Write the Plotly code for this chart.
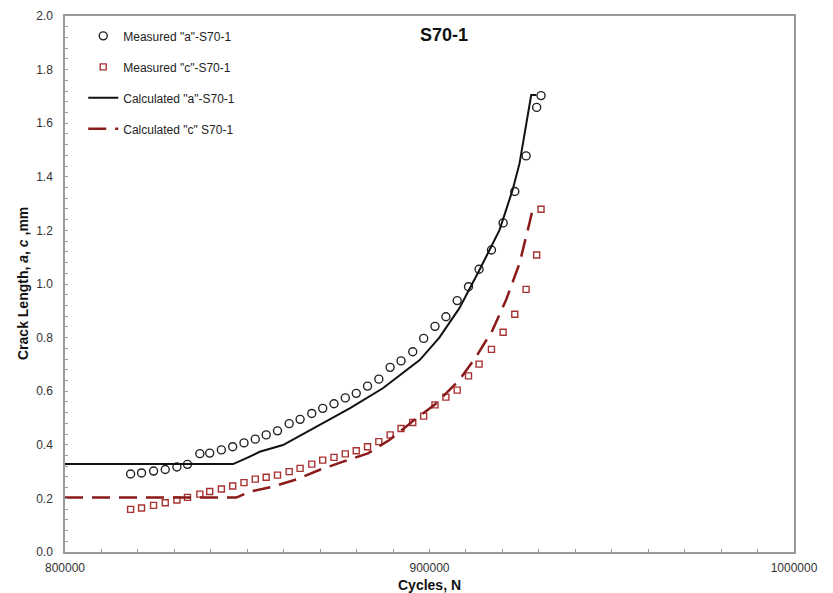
import plotly.graph_objects as go

# ---------------- data ----------------
cycles_measured = [818000, 821000, 824300, 827500, 830700, 833600, 837000, 839700,
                   842900, 846000, 849100, 852200, 855200, 858300, 861500, 864500,
                   867700, 870700, 873800, 876900, 879900, 883000, 886100, 889200,
                   892200, 895400, 898400, 901500, 904500, 907600, 910700, 913600,
                   917000, 920200, 923400, 926500, 929400, 930600]
measured_a = [0.291, 0.295, 0.302, 0.308, 0.317, 0.327, 0.367, 0.369, 0.381, 0.393,
              0.407, 0.421, 0.437, 0.452, 0.479, 0.495, 0.517, 0.536, 0.553, 0.575,
              0.592, 0.619, 0.645, 0.689, 0.713, 0.747, 0.797, 0.842, 0.878, 0.938,
              0.990, 1.055, 1.127, 1.228, 1.345, 1.478, 1.659, 1.703]
measured_c = [0.159, 0.164, 0.174, 0.184, 0.194, 0.204, 0.216, 0.226, 0.235, 0.246,
              0.259, 0.272, 0.279, 0.287, 0.300, 0.312, 0.328, 0.343, 0.353, 0.366,
              0.378, 0.393, 0.412, 0.437, 0.461, 0.483, 0.507, 0.549, 0.578, 0.604,
              0.657, 0.701, 0.756, 0.820, 0.887, 0.980, 1.108, 1.279]

cycles_calc_a = [800000, 846100, 849800, 853400, 859800, 869000, 878100, 887200,
                 897300, 902700, 908200, 913700, 919200, 922800, 924700, 927900, 929300]
calc_a = [0.328, 0.328, 0.350, 0.374, 0.399, 0.468, 0.536, 0.611,
          0.716, 0.800, 0.910, 1.052, 1.201, 1.351, 1.450, 1.705, 1.705]

cycles_calc_c = [800000, 847000, 850700, 857100, 863500, 869900, 876300, 883100,
                 889000, 896400, 901400, 908200, 912800, 917300, 921000, 924700,
                 927400, 928300, 929600]
calc_c = [0.203, 0.203, 0.225, 0.244, 0.271, 0.307, 0.337, 0.368,
          0.418, 0.499, 0.549, 0.642, 0.729, 0.828, 0.940, 1.077,
          1.226, 1.278, 1.278]

x_ticks = [800000, 900000, 1000000]
x_tick_labels = ["800000", "900000", "1000000"]
y_ticks = [0.0, 0.2, 0.4, 0.6, 0.8, 1.0, 1.2, 1.4, 1.6, 1.8, 2.0]

DARKRED = "#8B1A1A"
SQRED = "#A83232"
FONT = "Liberation Sans, Arial, sans-serif"

fig = go.Figure()
fig.add_trace(go.Scatter(
    x=cycles_measured, y=measured_a, mode="markers", name='Measured "a"-S70-1',
    legendgroup="g1",
    marker=dict(symbol="circle-open", size=8, color="#222222", line=dict(width=1.4))))
fig.add_trace(go.Scatter(
    x=cycles_measured, y=measured_c, mode="markers", name='Measured "c"-S70-1',
    legendgroup="g2",
    marker=dict(symbol="square-open", size=6, color=SQRED, line=dict(width=1.4))))
fig.add_trace(go.Scatter(
    x=cycles_calc_a, y=calc_a, mode="lines", name='Calculated "a"-S70-1',
    legendgroup="g3",
    line=dict(color="#111111", width=2)))
fig.add_trace(go.Scatter(
    x=cycles_calc_c, y=calc_c, mode="lines", name='Calculated "c" S70-1',
    legendgroup="g4",
    line=dict(color=DARKRED, width=2.5, dash="18px,9px")))

axis_common = dict(
    showgrid=False, zeroline=False, showline=True, linecolor="#9a9a9a", linewidth=1.5,
    mirror=True, ticks="inside", ticklen=3, tickcolor="#9a9a9a",
    tickfont=dict(family=FONT, size=12, color="#333333"),
)

fig.update_xaxes(
    range=[800000, 1000000], tickvals=x_ticks, ticktext=x_tick_labels,
    minor=dict(dtick=10000, ticks="inside", ticklen=3, tickcolor="#9a9a9a"),
    ticklabelstandoff=4,
    **axis_common)
fig.update_yaxes(
    range=[0, 2.0], tickvals=y_ticks, tickformat=".1f",
    minor=dict(dtick=0.04, ticks="inside", ticklen=3, tickcolor="#9a9a9a"),
    ticklabelstandoff=8,
    **axis_common)

fig.update_layout(
    width=833, height=593,
    margin=dict(l=65, r=39, t=16, b=41, autoexpand=False),
    paper_bgcolor="white", plot_bgcolor="white",
    font=dict(family=FONT, size=12, color="#222222"),
    showlegend=True,
    legend=dict(x=0.025, y=0.99, xanchor="left", yanchor="top",
                bgcolor="rgba(0,0,0,0)", tracegroupgap=12,
                font=dict(family=FONT, size=12, color="#222222")),
    annotations=[
        dict(text="<b>S70-1</b>", x=0.52, y=0.965, xref="paper", yref="paper",
             xanchor="center", yanchor="middle", showarrow=False,
             font=dict(family=FONT, size=18, color="#111111")),
        dict(text="<b>Cycles, N</b>", x=0.5, y=0, xref="paper", yref="paper",
             xanchor="center", yanchor="top", yshift=-23, showarrow=False,
             font=dict(family=FONT, size=14, color="#111111")),
        dict(text="<b>Crack Length, <i>a</i>, <i>c</i> ,mm</b>", x=0, y=0.5,
             xref="paper", yref="paper", xanchor="center", yanchor="middle",
             xshift=-42, textangle=-90, showarrow=False,
             font=dict(family=FONT, size=14, color="#111111")),
    ],
)

fig.write_html("out.html")
